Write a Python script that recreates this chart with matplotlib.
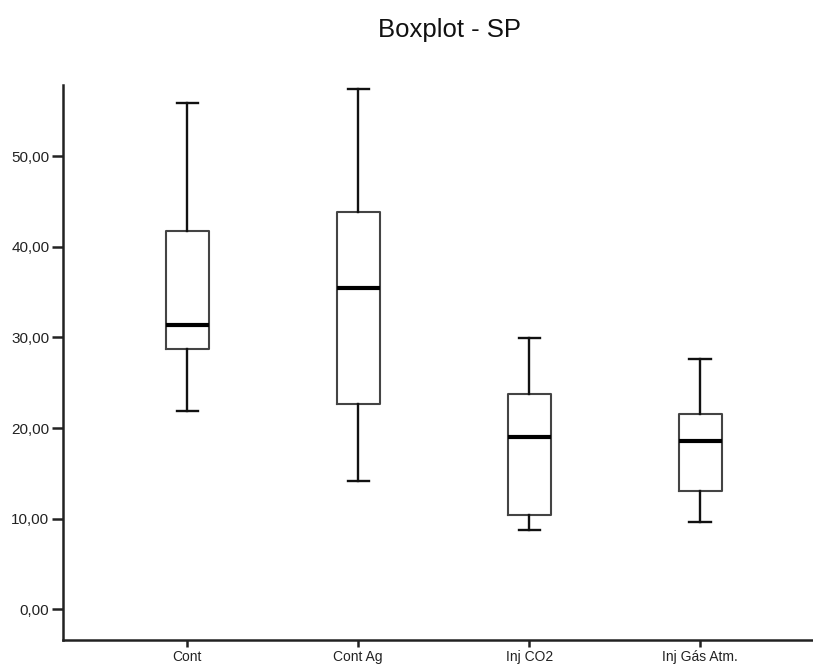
import matplotlib
matplotlib.use("Agg")
import matplotlib.pyplot as plt

categories = ["Cont", "Cont Ag", "Inj CO2", "Inj Gás Atm."]
whislo = [21.9, 14.2, 8.7, 9.6]
q1 = [28.7, 22.7, 10.4, 13.0]
median = [31.4, 35.5, 19.05, 18.6]
q3 = [41.7, 43.8, 23.8, 21.5]
whishi = [55.85, 57.4, 29.9, 27.6]
yticks = [0, 10, 20, 30, 40, 50]

plt.rcParams['font.family'] = ['Liberation Sans', 'DejaVu Sans']

fig = plt.figure(figsize=(8.13, 6.68), dpi=100)
ax = fig.add_axes([0.0779, 0.0419, 0.9221, 0.8309])

stats = []
for i, c in enumerate(categories):
    stats.append(dict(label=c, whislo=whislo[i], q1=q1[i], med=median[i],
                      q3=q3[i], whishi=whishi[i], fliers=[]))

ax.bxp(stats, positions=range(1, len(categories) + 1), widths=0.25,
       showfliers=False,
       boxprops=dict(color="#444444", linewidth=1.5),
       whiskerprops=dict(color="#111111", linewidth=1.7),
       capprops=dict(color="#111111", linewidth=1.7),
       medianprops=dict(color="black", linewidth=3.0))

ax.set_xlim(0.275, 4.66)
ax.set_ylim(-3.39, 57.86)
ax.set_yticks(yticks)
ax.set_yticklabels([f"{v:.2f}".replace(".", ",") for v in yticks], fontsize=11)
ax.set_xticks(range(1, len(categories) + 1))
ax.set_xticklabels(categories, fontsize=10)

for s in ["top", "right"]:
    ax.spines[s].set_visible(False)
for s in ["left", "bottom"]:
    ax.spines[s].set_linewidth(1.8)
    ax.spines[s].set_color("#222222")
ax.tick_params(axis="y", length=8, width=1.8, pad=2, colors="#222222")
ax.tick_params(axis="x", length=5, width=1.8, pad=2, colors="#222222")

fig.text(0.5535, 1 - 36.7 / 668, "Boxplot - SP", ha="center", va="baseline",
         fontsize=18.5, color="#111111")

fig.savefig("out.png", dpi=100)
